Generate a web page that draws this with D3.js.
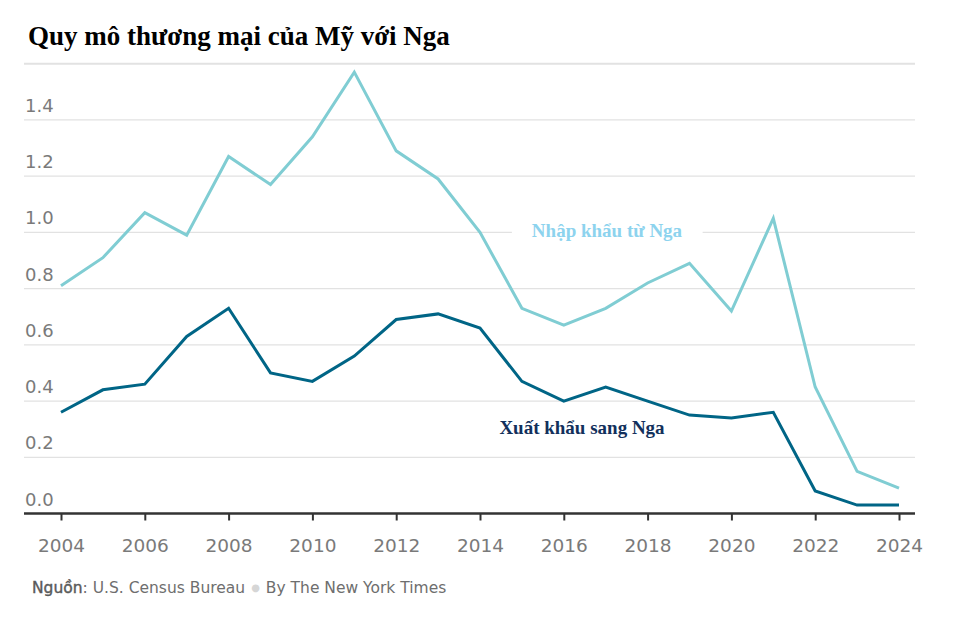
<!DOCTYPE html>
<html>
<head>
<meta charset="utf-8">
<script src="https://cdn.jsdelivr.net/npm/d3@7"></script>
<style>
  body { margin: 0; background: #fff; }
  svg { display: block; }
</style>
</head>
<body>
<svg id="chart" width="953" height="627"></svg>
<script>
const years = [2004,2005,2006,2007,2008,2009,2010,2011,2012,2013,2014,2015,2016,2017,2018,2019,2020,2021,2022,2023,2024];
const imports = [0.81,0.91,1.07,0.99,1.27,1.17,1.34,1.57,1.29,1.19,1.00,0.73,0.67,0.73,0.82,0.89,0.72,1.05,0.45,0.15,0.09];
const exports_ = [0.36,0.44,0.46,0.63,0.73,0.50,0.47,0.56,0.69,0.71,0.66,0.47,0.40,0.45,0.40,0.35,0.34,0.36,0.08,0.03,0.03];
const yTicks = [0,0.2,0.4,0.6,0.8,1.0,1.2,1.4,1.6];
const yLabelTicks = [0,0.2,0.4,0.6,0.8,1.0,1.2,1.4];
const xTicks = [2004,2006,2008,2010,2012,2014,2016,2018,2020,2022,2024];
const titleText = "Quy mô thương mại của Mỹ với Nga";
const importLabel = "Nhập khẩu từ Nga";
const exportLabel = "Xuất khẩu sang Nga";

const svg = d3.select("#chart");
const left = 24, right = 915;
const x = d3.scaleLinear().domain([2004, 2024]).range([61, 899]);
const y = d3.scaleLinear().domain([0, 1.6]).range([513.5, 63.7]);

// title
svg.append("text")
  .attr("x", 28).attr("y", 45)
  .attr("font-family", "'Liberation Serif', 'Times New Roman', serif")
  .attr("font-weight", "bold").attr("font-size", 27)
  .attr("fill", "#000")
  .text(titleText);

// gridlines
svg.append("g").selectAll("line").data(yTicks.filter(d => d > 0)).join("line")
  .attr("x1", left).attr("x2", right)
  .attr("y1", d => y(d)).attr("y2", d => y(d))
  .attr("stroke", "#e2e2e2").attr("stroke-width", d => d === 1.6 ? 2 : 1.3);

// y labels
svg.append("g").selectAll("text").data(yLabelTicks).join("text")
  .attr("x", left + 1).attr("y", d => y(d) - 8)
  .attr("font-family", "'DejaVu Sans', Verdana, sans-serif")
  .attr("font-size", 18).attr("fill", "#7a7a7a")
  .text(d => d.toFixed(1));

// x axis
const xAxis = d3.axisBottom(x).tickValues(xTicks).tickFormat(d3.format("d")).tickSize(7).tickSizeOuter(0);
const gx = svg.append("g").attr("transform", `translate(0,${y(0)})`).call(xAxis);
gx.select(".domain").remove();
gx.selectAll(".tick line").attr("stroke", "#333").attr("stroke-width", 2);
gx.selectAll(".tick text")
  .attr("font-family", "'DejaVu Sans', Verdana, sans-serif")
  .attr("font-size", 18.5).attr("fill", "#7a7a7a")
  .attr("dy", 0).attr("y", 38);
svg.append("line").attr("x1", left).attr("x2", right)
  .attr("y1", y(0)).attr("y2", y(0))
  .attr("stroke", "#333").attr("stroke-width", 2.5);

// label halo (background behind import label over the gridline)
const haloG = svg.append("g");

// lines
const line = d3.line().x((d, i) => x(years[i])).y(d => y(d));
svg.append("path").datum(imports).attr("d", line)
  .attr("fill", "none").attr("stroke", "#80cdd3").attr("stroke-width", 3)
  .attr("stroke-linejoin", "miter");
svg.append("path").datum(exports_).attr("d", line)
  .attr("fill", "none").attr("stroke", "#006586").attr("stroke-width", 3)
  .attr("stroke-linejoin", "miter");

// labels
const impT = svg.append("text")
  .attr("x", 607).attr("y", 237)
  .attr("text-anchor", "middle")
  .attr("font-family", "'Liberation Serif', 'Times New Roman', serif")
  .attr("font-weight", "bold").attr("font-size", 19)
  .attr("fill", "#8dd3ee")
  .text(importLabel);
const bb = impT.node().getBBox();
haloG.append("rect")
  .attr("x", bb.x - 20).attr("y", y(1.0) - 3)
  .attr("width", bb.width + 40).attr("height", 6)
  .attr("fill", "#fff");

svg.append("text")
  .attr("x", 582).attr("y", 434)
  .attr("text-anchor", "middle")
  .attr("font-family", "'Liberation Serif', 'Times New Roman', serif")
  .attr("font-weight", "bold").attr("font-size", 19)
  .attr("fill", "#12305c")
  .text(exportLabel);

// source
const src = svg.append("text").attr("x", 32).attr("y", 593)
  .attr("font-family", "'DejaVu Sans', Verdana, sans-serif")
  .attr("font-size", 15).attr("fill", "#6e6e6e");
src.append("tspan").attr("fill", "#5a5a5a").attr("stroke", "#5a5a5a").attr("stroke-width", 0.4).text("Nguồn");
src.append("tspan").text(": U.S. Census Bureau");
src.append("tspan").attr("fill", "#d6d6d6").attr("font-size", 10).attr("dx", 6).attr("dy", -2).text("●");
src.append("tspan").attr("dx", 6).attr("dy", 2).text("By The New York Times");
const w = src.node().getComputedTextLength();
src.attr("font-size", 15 * 403 / w);
</script>
</body>
</html>
